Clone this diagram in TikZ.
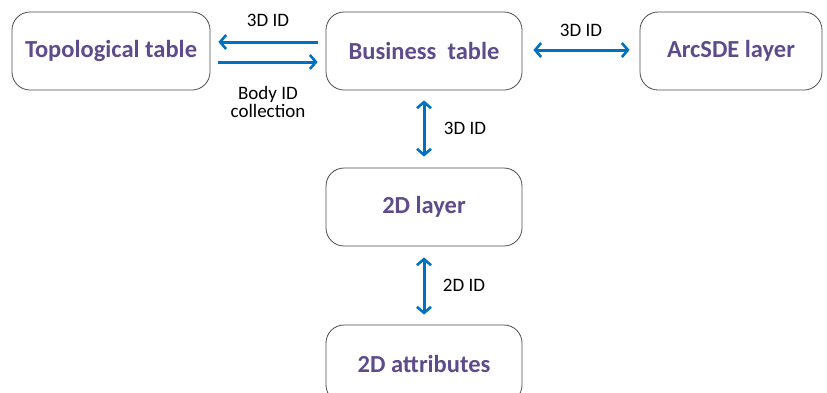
\documentclass[tikz,border=0pt]{standalone}
\usepackage{fontspec}
\setmainfont{Carlito}
\usetikzlibrary{arrows.meta,positioning}
\definecolor{boxtext}{HTML}{5F4B8B}
\definecolor{linkblue}{HTML}{0070C0}
\tikzset{
  tablebox/.style={draw=black!70, line width=0.8pt, rounded corners=18pt,
    minimum width=196pt, minimum height=78pt, text=boxtext,
    font=\fontsize{24.5}{28}\selectfont\bfseries},
  barb/.tip={Straight Barb[length=6pt,width=14pt,line width=2.6pt]},
  link/.style={linkblue, line width=3pt, -barb},
  twoway/.style={linkblue, line width=3pt, barb-barb},
  idlabel/.style={font=\fontsize{19}{18}\selectfont, align=center}
}
\begin{document}
\begin{tikzpicture}[x=1pt,y=1pt]
\useasboundingbox (0,0) rectangle (827,-392);
% tables
\node [tablebox, minimum width=198pt] (topo) at (111,-51) {Topological table};
\node [tablebox] (biz) at (424,-51) {Business~ table};
\node [tablebox, minimum width=182pt] (sde) at (731,-51) {ArcSDE layer};
\node [tablebox] (layer) at (424,-207) {2D layer};
\node [tablebox] (attr) at (424,-364) {2D attributes};
% links
\draw [link, shorten <=8pt, shorten >=8pt] ([yshift=9pt]biz.west) -- ([yshift=9pt]topo.east);
\draw [link, shorten <=8pt, shorten >=8pt] ([yshift=-11pt]topo.east) -- ([yshift=-11pt]biz.west);
\draw [twoway, shorten <=11pt, shorten >=10pt] ([yshift=1pt]biz.east) -- ([yshift=1pt]sde.west);
\draw [twoway, shorten <=10pt, shorten >=11pt] (biz.south) -- (layer.north);
\draw [twoway, shorten <=11pt, shorten >=10pt] (layer.south) -- (attr.north);
% labels
\node [idlabel] (topid) at (268,-20) {3D ID};
\node [idlabel] (bodyid) at (268,-102) {Body ID\\collection};
\node [idlabel] (sdeid) at (581,-30) {3D ID};
\node [idlabel] (layerid) at (465,-128) {3D ID};
\node [idlabel] (attrid) at (464,-285) {2D ID};
\end{tikzpicture}
\end{document}
